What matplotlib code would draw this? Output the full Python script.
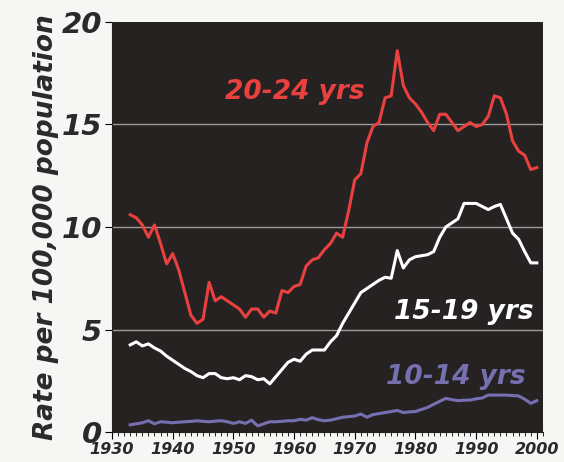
import matplotlib
matplotlib.use("Agg")
import matplotlib.pyplot as plt
from matplotlib.ticker import MultipleLocator

# 年 (1933-2000)
years = list(range(1933, 2001))

# 20-24歳
rate_20_24 = [10.6, 10.45, 10.1, 9.5, 10.1, 9.2, 8.2, 8.7, 7.9, 6.8,
              5.7, 5.3, 5.5, 7.3, 6.4, 6.6, 6.4, 6.2, 6.0, 5.6,
              6.0, 6.0, 5.6, 5.9, 5.8, 6.9, 6.8, 7.1, 7.2, 8.1,
              8.4, 8.5, 8.9, 9.2, 9.7, 9.5, 10.8, 12.3, 12.6, 14.1,
              14.9, 15.1, 16.3, 16.4, 18.6, 16.9, 16.3, 16.0, 15.6, 15.1,
              14.7, 15.5, 15.5, 15.1, 14.7, 14.9, 15.1, 14.9, 15.0, 15.4,
              16.4, 16.3, 15.5, 14.2, 13.7, 13.5, 12.8, 12.9]

# 15-19歳
rate_15_19 = [4.25, 4.4, 4.2, 4.3, 4.1, 3.95, 3.7, 3.5, 3.3, 3.1,
              2.95, 2.75, 2.65, 2.85, 2.85, 2.65, 2.6, 2.65, 2.55, 2.75,
              2.7, 2.55, 2.6, 2.35, 2.7, 3.05, 3.4, 3.55, 3.45, 3.8,
              4.0, 4.0, 4.0, 4.4, 4.7, 5.3, 5.8, 6.3, 6.8, 7.0,
              7.2, 7.4, 7.55, 7.5, 8.85, 8.0, 8.4, 8.55, 8.6, 8.65,
              8.8, 9.5, 10.0, 10.2, 10.4, 11.15, 11.15, 11.15, 11.0, 10.85,
              11.0, 11.1, 10.4, 9.7, 9.4, 8.8, 8.25, 8.25]

# 10-14歳
rate_10_14 = [0.35, 0.4, 0.45, 0.55, 0.4, 0.5, 0.48, 0.45, 0.48, 0.5,
              0.52, 0.55, 0.52, 0.5, 0.53, 0.55, 0.5, 0.42, 0.5, 0.42,
              0.58, 0.3, 0.4, 0.5, 0.5, 0.52, 0.55, 0.55, 0.62, 0.58,
              0.7, 0.6, 0.55, 0.58, 0.65, 0.72, 0.75, 0.78, 0.88, 0.72,
              0.85, 0.9, 0.95, 1.0, 1.05, 0.95, 0.98, 1.0, 1.1, 1.2,
              1.35, 1.5, 1.64, 1.58, 1.53, 1.55, 1.56, 1.62, 1.66, 1.8,
              1.8, 1.8, 1.8, 1.78, 1.76, 1.6, 1.4, 1.53]

red = "#e8413f"
purple = "#7670b0"
font = "DejaVu Sans"

fig = plt.figure(figsize=(5.64, 4.62), dpi=100, facecolor="#f6f6f4")
ax = fig.add_axes([0.1986, 0.0649, 0.764, 0.8875])
ax.set_facecolor("#252221")

# グリッド線
for v in [5, 10, 15]:
    ax.axhline(v, color="#9c9c9a", lw=1.0, zorder=1)

ax.plot(years, rate_20_24, color=red, lw=2.2, zorder=3)
ax.plot(years, rate_15_19, color="white", lw=2.2, zorder=3)
ax.plot(years, rate_10_14, color=purple, lw=2.2, zorder=3)

ax.set_xlim(1930, 2001)
ax.set_ylim(0, 20)
ax.set_yticks([0, 5, 10, 15, 20])
ax.set_xticks(range(1930, 2001, 10))
ax.xaxis.set_minor_locator(MultipleLocator(1))

for s in ["top", "right"]:
    ax.spines[s].set_visible(False)
ax.spines["left"].set_color("#252221")
ax.spines["bottom"].set_color("#252221")

ax.tick_params(axis="y", direction="out", length=5, width=0.8, pad=2)
ax.tick_params(axis="x", which="major", direction="out", length=5, width=0.8, pad=2)
ax.tick_params(axis="x", which="minor", direction="out", length=3, width=0.6)

for lab in ax.get_yticklabels():
    lab.set_fontfamily(font)
    lab.set_fontsize(21)
    lab.set_fontweight("bold")
    lab.set_fontstyle("italic")
    lab.set_color("#2a2a2a")
for lab in ax.get_xticklabels():
    lab.set_fontfamily(font)
    lab.set_fontsize(11.5)
    lab.set_fontweight("bold")
    lab.set_fontstyle("italic")
    lab.set_color("#2a2a2a")

ax.set_ylabel("Rate per 100,000 population", fontsize=19, fontweight="bold",
              fontstyle="italic", family=font, color="#2a2a2a", labelpad=2)

# ラベル
ax.text(1960.1, 16.6, "20-24 yrs", color=red, fontsize=19, fontweight="bold",
        fontstyle="italic", family=font, ha="center", va="center")
ax.text(1999.5, 5.85, "15-19 yrs", color="white", fontsize=19, fontweight="bold",
        fontstyle="italic", family=font, ha="right", va="center")
ax.text(1998.2, 2.68, "10-14 yrs", color=purple, fontsize=19, fontweight="bold",
        fontstyle="italic", family=font, ha="right", va="center")

plt.savefig("out.png", dpi=100, facecolor=fig.get_facecolor())
